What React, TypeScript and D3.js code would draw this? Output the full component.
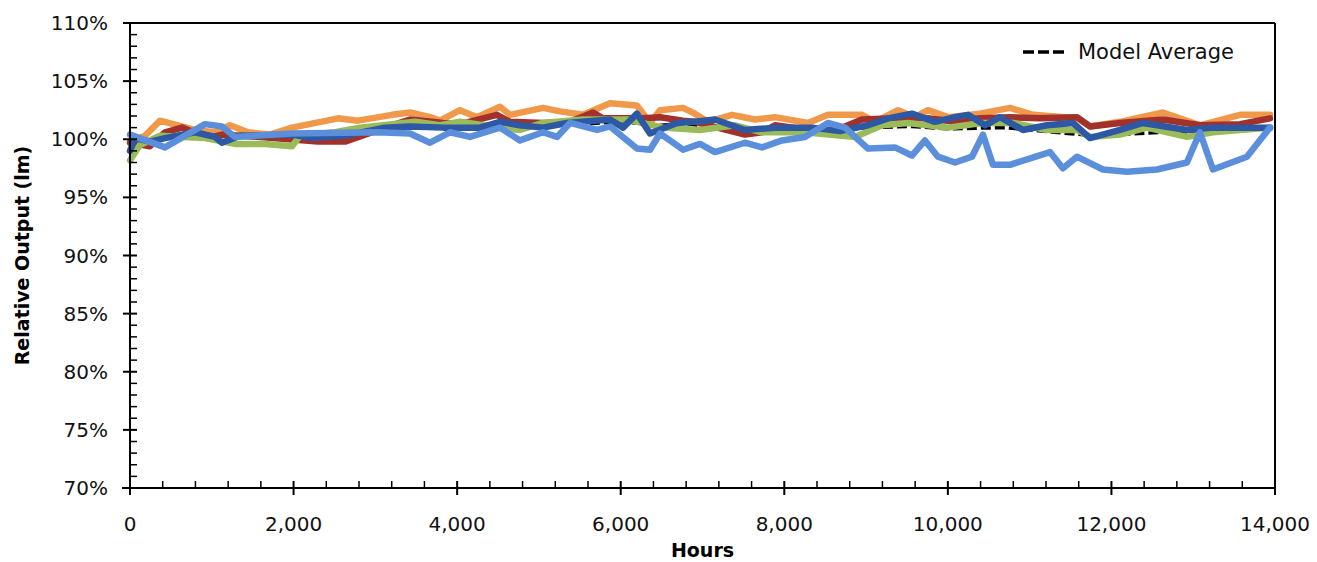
import React from "react";
import * as d3 from "d3";

// ---- Data ----
const xTicks = [0, 2000, 4000, 6000, 8000, 10000, 12000, 14000];
const yTicks = [70, 75, 80, 85, 90, 95, 100, 105, 110];
const legendLabel = "Model Average";
const xTitle = "Hours";
const yTitle = "Relative Output (lm)";

const modelHours = [0, 300, 800, 1500, 2500, 3500, 4500, 5050, 5500, 6000, 6500, 6761, 7100, 7500, 8000, 8500, 9000, 9561, 10000, 10700, 11300, 11800, 12600, 13200, 13939];
const modelValues = [99.3, 100.0, 100.4, 100.2, 100.3, 101.0, 101.2, 101.4, 101.3, 101.5, 101.2, 101.4, 101.0, 100.9, 100.8, 100.7, 101.0, 101.1, 100.9, 101.0, 100.6, 100.3, 100.6, 100.5, 101.1];

const orangeHours = [0, 183, 367, 587, 795, 1039, 1223, 1443, 1712, 1981, 2543, 2788, 3203, 3424, 3668, 3790, 4035, 4243, 4524, 4646, 5050, 5258, 5539, 5869, 6199, 6358, 6480, 6761, 6908, 7067, 7361, 7642, 7886, 8290, 8534, 8950, 9109, 9390, 9598, 9757, 10002, 10393, 10760, 11041, 11579, 11738, 12105, 12630, 13083, 13572, 13939];
const orangeValues = [99.8, 100.3, 101.6, 101.2, 100.8, 100.6, 101.2, 100.6, 100.4, 101.0, 101.8, 101.6, 102.1, 102.3, 101.9, 101.6, 102.5, 101.9, 102.8, 102.1, 102.7, 102.4, 102.1, 103.1, 102.9, 101.4, 102.5, 102.7, 102.2, 101.5, 102.1, 101.7, 101.9, 101.4, 102.1, 102.1, 101.5, 102.5, 101.9, 102.5, 101.9, 102.2, 102.7, 102.1, 101.8, 101.1, 101.5, 102.3, 101.2, 102.1, 102.1];

const redHours = [0, 245, 428, 636, 954, 1125, 1590, 2299, 2629, 3118, 3424, 3827, 4035, 4487, 4646, 5050, 5380, 5661, 5783, 6272, 6480, 6761, 6908, 7519, 7727, 7886, 8192, 8534, 8950, 9353, 9757, 10087, 10393, 10760, 11127, 11579, 11738, 12105, 12630, 13083, 13572, 13939];
const redValues = [99.7, 99.4, 100.6, 101.0, 100.1, 100.4, 100.2, 99.8, 99.8, 101.0, 101.7, 101.4, 101.3, 102.1, 101.5, 101.4, 101.5, 102.3, 101.8, 101.8, 101.9, 101.6, 101.5, 100.4, 100.6, 101.2, 100.9, 100.5, 101.7, 101.8, 101.8, 101.5, 101.8, 101.9, 101.8, 101.9, 101.1, 101.4, 101.7, 101.2, 101.3, 101.8];

const greenHours = [0, 122, 367, 636, 917, 1284, 1651, 1981, 2079, 2507, 2812, 3485, 3790, 4035, 4524, 4768, 5050, 5539, 6077, 6517, 6969, 7397, 7727, 8253, 8865, 9195, 9512, 10002, 10417, 10796, 11212, 11579, 11738, 12105, 12435, 12924, 13242, 13939];
const greenValues = [98.2, 99.5, 100.3, 100.2, 100.1, 99.6, 99.6, 99.4, 100.3, 100.6, 101.0, 101.5, 101.2, 101.5, 101.0, 100.8, 101.4, 101.7, 101.7, 101.0, 100.8, 101.2, 100.6, 100.6, 100.2, 101.2, 101.4, 101.0, 101.4, 101.4, 100.8, 100.8, 100.2, 100.4, 101.0, 100.2, 100.6, 101.0];

const darkBlueHours = [0, 61, 245, 428, 795, 1039, 1125, 1345, 1981, 2225, 2629, 3118, 3424, 3827, 4279, 4524, 4768, 5050, 5343, 5869, 6028, 6199, 6358, 6688, 6908, 7152, 7519, 7923, 8339, 8681, 9023, 9268, 9561, 9842, 10087, 10246, 10454, 10637, 10918, 11212, 11530, 11738, 12105, 12386, 12924, 13242, 13939];
const darkBlueValues = [99.0, 100.1, 99.8, 100.1, 100.6, 100.2, 99.7, 100.3, 100.4, 100.1, 100.3, 101.0, 101.1, 101.0, 101.0, 101.5, 101.2, 101.0, 101.4, 101.7, 101.0, 102.2, 100.5, 101.4, 101.5, 101.7, 100.8, 101.0, 101.0, 100.7, 101.2, 101.8, 102.2, 101.5, 101.9, 102.1, 101.2, 101.9, 100.8, 101.2, 101.4, 100.1, 100.8, 101.4, 100.8, 101.0, 101.0];

const lightBlueHours = [0, 428, 917, 1125, 1284, 1981, 3032, 3423, 3668, 3912, 4157, 4524, 4768, 5050, 5221, 5380, 5710, 5869, 6199, 6358, 6480, 6761, 6969, 7152, 7519, 7727, 7972, 8253, 8534, 8742, 9023, 9353, 9561, 9720, 9879, 10087, 10295, 10429, 10551, 10759, 11248, 11407, 11578, 11896, 12190, 12557, 12923, 13082, 13241, 13657, 13938];
const lightBlueValues = [100.4, 99.3, 101.3, 101.1, 100.2, 100.5, 100.6, 100.5, 99.7, 100.6, 100.2, 101.0, 99.9, 100.6, 100.2, 101.4, 100.8, 101.1, 99.2, 99.1, 100.5, 99.1, 99.6, 98.9, 99.7, 99.3, 99.9, 100.2, 101.4, 101.0, 99.2, 99.3, 98.6, 99.9, 98.5, 98.0, 98.5, 100.4, 97.8, 97.8, 98.9, 97.5, 98.5, 97.4, 97.2, 97.4, 98.0, 100.6, 97.4, 98.5, 101.0];

const seriesList = [
  { name: "Orange", hours: orangeHours, values: orangeValues, color: "#F0994A" },
  { name: "Red", hours: redHours, values: redValues, color: "#A3312B" },
  { name: "Green", hours: greenHours, values: greenValues, color: "#9BBB59" },
  { name: "DarkBlue", hours: darkBlueHours, values: darkBlueValues, color: "#2C58A4" },
  { name: "LightBlue", hours: lightBlueHours, values: lightBlueValues, color: "#5B8FDB" },
];

const W = 1317;
const H = 562;
const M = { left: 130, right: 1275, top: 23, bottom: 488 };
const FONT = "'DejaVu Sans', sans-serif";

export default function App() {
  const x = d3.scaleLinear().domain([0, 14000]).range([M.left, M.right]);
  const y = d3.scaleLinear().domain([70, 110]).range([M.bottom, M.top]);
  const line = d3
    .line<[number, number]>()
    .x((d) => x(d[0]))
    .y((d) => y(d[1]));

  const xMinor = d3.range(0, 14001, 400).filter((v) => v % 2000 !== 0);
  const yMinor = d3.range(70, 111, 1).filter((v) => v % 5 !== 0);
  const fmt = d3.format(",");

  const mk = (hs: number[], vs: number[]) => hs.map((h, i) => [h, vs[i]] as [number, number]);

  return (
    <svg
      width={W}
      height={H}
      style={{ position: "absolute", left: 0, top: 0, background: "#fff" }}
    >
      <rect x={0} y={0} width={W} height={H} fill="#fff" />
      {/* lines */}
      <path
        d={line(mk(modelHours, modelValues)) || ""}
        fill="none"
        stroke="#000"
        strokeWidth={3.5}
        strokeDasharray="10,4"
      />
      {seriesList.map((s) => (
        <path
          key={s.name}
          d={line(mk(s.hours, s.values)) || ""}
          fill="none"
          stroke={s.color}
          strokeWidth={6.5}
          strokeLinejoin="round"
          strokeLinecap="round"
        />
      ))}
      {/* frame */}
      <line x1={M.left} x2={M.right} y1={M.top} y2={M.top} stroke="#000" strokeWidth={2} />
      <line x1={M.right} x2={M.right} y1={M.top} y2={M.bottom} stroke="#000" strokeWidth={2} />
      <line x1={M.left} x2={M.left} y1={M.top} y2={M.bottom} stroke="#000" strokeWidth={2} />
      <line x1={M.left - 8} x2={M.right} y1={M.bottom} y2={M.bottom} stroke="#000" strokeWidth={2} />
      {/* y ticks */}
      {yTicks.map((v) => (
        <g key={"y" + v}>
          <line x1={M.left - 7} x2={M.left + 7} y1={y(v)} y2={y(v)} stroke="#000" strokeWidth={2} />
          <text
            x={108}
            y={y(v) + 7}
            textAnchor="end"
            fontFamily={FONT}
            fontSize={20}
            fill="#111"
          >
            {v}%
          </text>
        </g>
      ))}
      {yMinor.map((v) => (
        <line key={"ym" + v} x1={M.left} x2={M.left + 7} y1={y(v)} y2={y(v)} stroke="#000" strokeWidth={1.5} />
      ))}
      {/* x ticks */}
      {xTicks.map((v) => (
        <g key={"x" + v}>
          <line x1={x(v)} x2={x(v)} y1={M.bottom - 7} y2={M.bottom + 7} stroke="#000" strokeWidth={2} />
          <text
            x={x(v)}
            y={531}
            textAnchor="middle"
            fontFamily={FONT}
            fontSize={20}
            fill="#111"
          >
            {fmt(v)}
          </text>
        </g>
      ))}
      {xMinor.map((v) => (
        <line key={"xm" + v} x1={x(v)} x2={x(v)} y1={M.bottom - 7} y2={M.bottom} stroke="#000" strokeWidth={1.5} />
      ))}
      {/* titles */}
      <text
        x={(M.left + M.right) / 2}
        y={557}
        textAnchor="middle"
        fontFamily={FONT}
        fontWeight="bold"
        fontSize={19}
        fill="#000"
      >
        {xTitle}
      </text>
      <text
        transform={`translate(29, ${(M.top + M.bottom) / 2}) rotate(-90)`}
        textAnchor="middle"
        fontFamily={FONT}
        fontWeight="bold"
        fontSize={19}
        fill="#000"
      >
        {yTitle}
      </text>
      {/* legend */}
      <line x1={1023} x2={1068} y1={52} y2={52} stroke="#000" strokeWidth={3.5} strokeDasharray="11,4" />
      <text x={1078} y={59} fontFamily={FONT} fontSize={21} fill="#111">
        {legendLabel}
      </text>
    </svg>
  );
}
